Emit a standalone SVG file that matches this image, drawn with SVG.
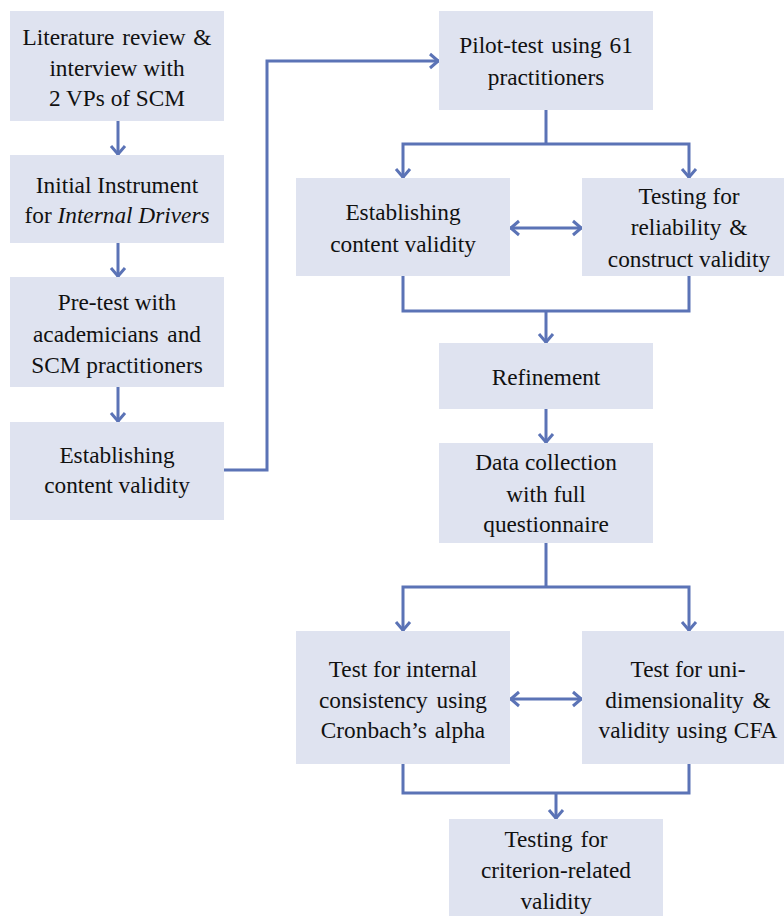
<svg xmlns="http://www.w3.org/2000/svg" width="784" height="916" viewBox="0 0 784 916">
  <style>
    .box { fill: #dfe3f0; }
    .lbl { font-family: Tinos, 'Times New Roman', serif; font-size: 23.3px; fill: #111; text-anchor: middle; }
    .wire { fill: none; stroke: #5b73b6; stroke-width: 3; }
  </style>
  <defs>
    <marker id="chev" viewBox="-12 -9 14 18" refX="0" refY="0" markerWidth="14" markerHeight="18" markerUnits="userSpaceOnUse" orient="auto-start-reverse">
      <path d="M-9,-7 L-0.8,0 L-9,7" fill="none" stroke="#5b73b6" stroke-width="3"/>
    </marker>
  </defs>
  <rect width="784" height="916" fill="#ffffff"/>

  <!-- connectors -->
  <g id="connectors" class="wire">
    <line x1="118" y1="121" x2="118" y2="155" marker-end="url(#chev)"/>
    <line x1="118" y1="243" x2="118" y2="277" marker-end="url(#chev)"/>
    <line x1="118" y1="387" x2="118" y2="422" marker-end="url(#chev)"/>
    <polyline points="224,470 267,470 267,61 439,61" marker-end="url(#chev)"/>
    <line x1="546" y1="110" x2="546" y2="144"/>
    <polyline points="403,178 403,144 689,144 689,178" marker-start="url(#chev)" marker-end="url(#chev)"/>
    <line x1="510" y1="228" x2="582" y2="228" marker-start="url(#chev)" marker-end="url(#chev)"/>
    <polyline points="403,276 403,311 689,311 689,276"/>
    <line x1="546" y1="311" x2="546" y2="343" marker-end="url(#chev)"/>
    <line x1="546" y1="409" x2="546" y2="443" marker-end="url(#chev)"/>
    <line x1="546" y1="543" x2="546" y2="587"/>
    <polyline points="403,631 403,587 689,587 689,631" marker-start="url(#chev)" marker-end="url(#chev)"/>
    <line x1="510" y1="699" x2="582" y2="699" marker-start="url(#chev)" marker-end="url(#chev)"/>
    <polyline points="403,764 403,793 689,793 689,764"/>
    <line x1="556" y1="793" x2="556" y2="819" marker-end="url(#chev)"/>
  </g>

  <!-- left column -->
  <g id="n-literature">
    <rect class="box" x="10" y="11" width="214" height="110"/>
    <text class="lbl" x="117" y="45" word-spacing="2">Literature review &amp;</text>
    <text class="lbl" x="117" y="76">interview with</text>
    <text class="lbl" x="117" y="106">2 VPs of SCM</text>
  </g>
  <g id="n-initial">
    <rect class="box" x="10" y="155" width="214" height="88"/>
    <text class="lbl" x="117" y="193">Initial Instrument</text>
    <text class="lbl" x="117" y="223">for <tspan font-style="italic">Internal Drivers</tspan></text>
  </g>
  <g id="n-pretest">
    <rect class="box" x="10" y="277" width="214" height="110"/>
    <text class="lbl" x="117" y="310">Pre-test with</text>
    <text class="lbl" x="117" y="342" word-spacing="3">academicians and</text>
    <text class="lbl" x="117" y="373">SCM practitioners</text>
  </g>
  <g id="n-content1">
    <rect class="box" x="10" y="422" width="214" height="98"/>
    <text class="lbl" x="117" y="463">Establishing</text>
    <text class="lbl" x="117" y="493">content validity</text>
  </g>

  <!-- right column -->
  <g id="n-pilot">
    <rect class="box" x="439" y="11" width="214" height="99"/>
    <text class="lbl" x="546" y="53" word-spacing="2">Pilot-test using 61</text>
    <text class="lbl" x="546" y="85">practitioners</text>
  </g>
  <g id="n-content2">
    <rect class="box" x="296" y="178" width="214" height="98"/>
    <text class="lbl" x="403" y="220">Establishing</text>
    <text class="lbl" x="403" y="252">content validity</text>
  </g>
  <g id="n-reliability">
    <rect class="box" x="582" y="178" width="210" height="98"/>
    <text class="lbl" x="689" y="204">Testing for</text>
    <text class="lbl" x="689" y="235" word-spacing="2">reliability &amp;</text>
    <text class="lbl" x="689" y="267">construct validity</text>
  </g>
  <g id="n-refinement">
    <rect class="box" x="439" y="343" width="214" height="66"/>
    <text class="lbl" x="546" y="385">Refinement</text>
  </g>
  <g id="n-datacollection">
    <rect class="box" x="439" y="443" width="214" height="100"/>
    <text class="lbl" x="546" y="470">Data collection</text>
    <text class="lbl" x="546" y="502">with full</text>
    <text class="lbl" x="546" y="532">questionnaire</text>
  </g>
  <g id="n-internal">
    <rect class="box" x="296" y="631" width="214" height="133"/>
    <text class="lbl" x="403" y="677">Test for internal</text>
    <text class="lbl" x="403" y="708" word-spacing="3">consistency using</text>
    <text class="lbl" x="403" y="738" word-spacing="2">Cronbach’s alpha</text>
  </g>
  <g id="n-unidim">
    <rect class="box" x="582" y="631" width="210" height="133"/>
    <text class="lbl" x="688" y="677">Test for uni-</text>
    <text class="lbl" x="688" y="708" word-spacing="3">dimensionality &amp;</text>
    <text class="lbl" x="688" y="738" word-spacing="1">validity using CFA</text>
  </g>
  <g id="n-criterion">
    <rect class="box" x="449" y="819" width="214" height="97"/>
    <text class="lbl" x="556" y="847" word-spacing="2">Testing for</text>
    <text class="lbl" x="556" y="878">criterion-related</text>
    <text class="lbl" x="556" y="909">validity</text>
  </g>
</svg>
